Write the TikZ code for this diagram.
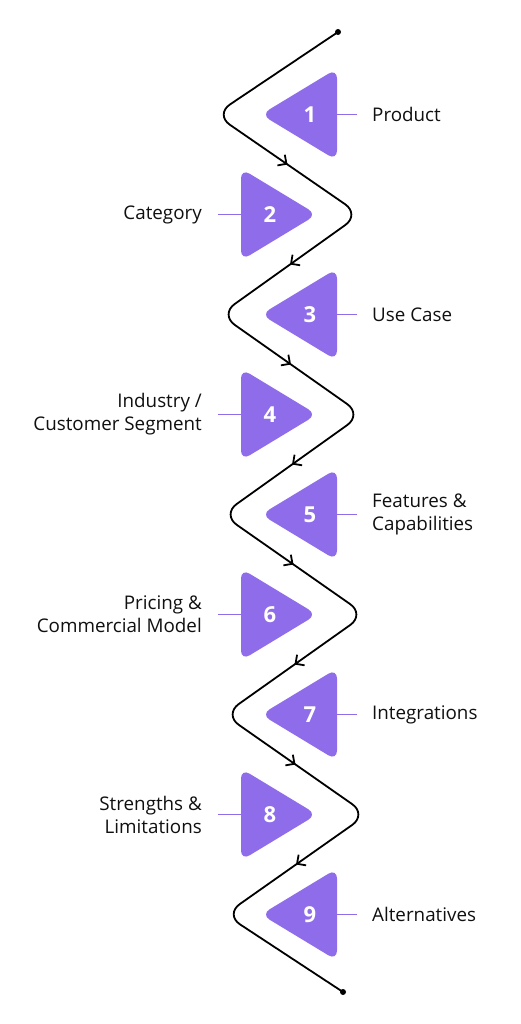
\documentclass[tikz,border=0pt]{standalone}
\usepackage{fontspec}
\setmainfont{Open Sans}
\usetikzlibrary{arrows.meta,decorations.markings}
\definecolor{tricol}{RGB}{143,108,234}
\definecolor{txt}{RGB}{16,16,16}
\begin{document}
\begin{tikzpicture}[x=1pt,y=-1pt,
  zig/.style={line width=1.8pt, black, rounded corners=18pt},
  tri/.style={fill=tricol, rounded corners=10pt},
  num/.style={text=white, font=\fontsize{22}{22}\selectfont\bfseries, inner sep=0pt},
  lab/.style={font=\fontsize{18.8}{23}\selectfont, inner sep=0pt, text=txt},
  rlab/.style={lab, anchor=west, align=left},
  llab/.style={lab, anchor=east, align=right},
  conn/.style={draw=tricol, line width=1.6pt},
  arr/.style={line width=1.8pt, postaction={decorate}, decoration={markings,
     mark=at position 0.5 with {\arrow{Straight Barb[length=6.5pt,width=13pt]}}}}]
\useasboundingbox (0,0) rectangle (521,1024);
\fill[white] (0,0) rectangle (521,1024);

% zigzag vertices
\coordinate (S) at (338,32);
\coordinate (V1) at (215,114.5);
\coordinate (V2) at (360,214.5);
\coordinate (V3) at (220,314.5);
\coordinate (V4) at (362,414.5);
\coordinate (V5) at (222,514.5);
\coordinate (V6) at (365,614.5);
\coordinate (V7) at (224,714.5);
\coordinate (V8) at (367,814.5);
\coordinate (V9) at (225,914.5);
\coordinate (E) at (343,992);

\draw[zig] (S) -- (V1) -- (V2) -- (V3) -- (V4) -- (V5) -- (V6) -- (V7) -- (V8) -- (V9) -- (E);
\fill (S) circle (3pt);
\fill (E) circle (3pt);

\path[arr] (V1) -- (V2);
\path[arr] (V2) -- (V3);
\path[arr] (V3) -- (V4);
\path[arr] (V4) -- (V5);
\path[arr] (V5) -- (V6);
\path[arr] (V6) -- (V7);
\path[arr] (V7) -- (V8);
\path[arr] (V8) -- (V9);

% triangles pointing left (odd rows)
\foreach \y in {114.5,314.5,514.5,714.5,914.5}{
  \fill[tri] (337,\y-46) -- (337,\y+46) -- (261,\y) -- cycle;
}
% triangles pointing right (even rows)
\foreach \y in {214.5,414.5,614.5,814.5}{
  \fill[tri] (241,\y-46) -- (241,\y+46) -- (317,\y) -- cycle;
}

% triangle edge points
\coordinate (t1) at (337,114.5);
\coordinate (t2) at (241,214.5);
\coordinate (t3) at (337,314.5);
\coordinate (t4) at (241,414.5);
\coordinate (t5) at (337,514.5);
\coordinate (t6) at (241,614.5);
\coordinate (t7) at (337,714.5);
\coordinate (t8) at (241,814.5);
\coordinate (t9) at (337,914.5);

% numbers
\node[num] (n1) at (310,114.5) {1};
\node[num] (n2) at (270,214.5) {2};
\node[num] (n3) at (310,314.5) {3};
\node[num] (n4) at (270,414.5) {4};
\node[num] (n5) at (310,514.5) {5};
\node[num] (n6) at (270,614.5) {6};
\node[num] (n7) at (310,714.5) {7};
\node[num] (n8) at (270,814.5) {8};
\node[num] (n9) at (310,914.5) {9};

% labels
\node[rlab] (l1) at (372,114.5) {Product};
\node[llab] (l2) at (202,214.5) {Category};
\node[rlab] (l3) at (372,314.5) {Use Case};
\node[llab] (l4) at (202,414.5) {Industry /\\Customer Segment};
\node[rlab] (l5) at (372,514.5) {Features \&\\Capabilities};
\node[llab] (l6) at (202,614.5) {Pricing \&\\Commercial Model};
\node[rlab] (l7) at (372,714.5) {Integrations};
\node[llab] (l8) at (202,814.5) {Strengths \&\\Limitations};
\node[rlab] (l9) at (372,914.5) {Alternatives};

% connectors
\foreach \i in {1,3,5,7,9}{
  \draw[conn, shorten >=15pt] (t\i) -- (l\i.west);
}
\foreach \i in {2,4,6,8}{
  \draw[conn, shorten >=16pt] (t\i) -- (l\i.east);
}
\end{tikzpicture}
\end{document}
